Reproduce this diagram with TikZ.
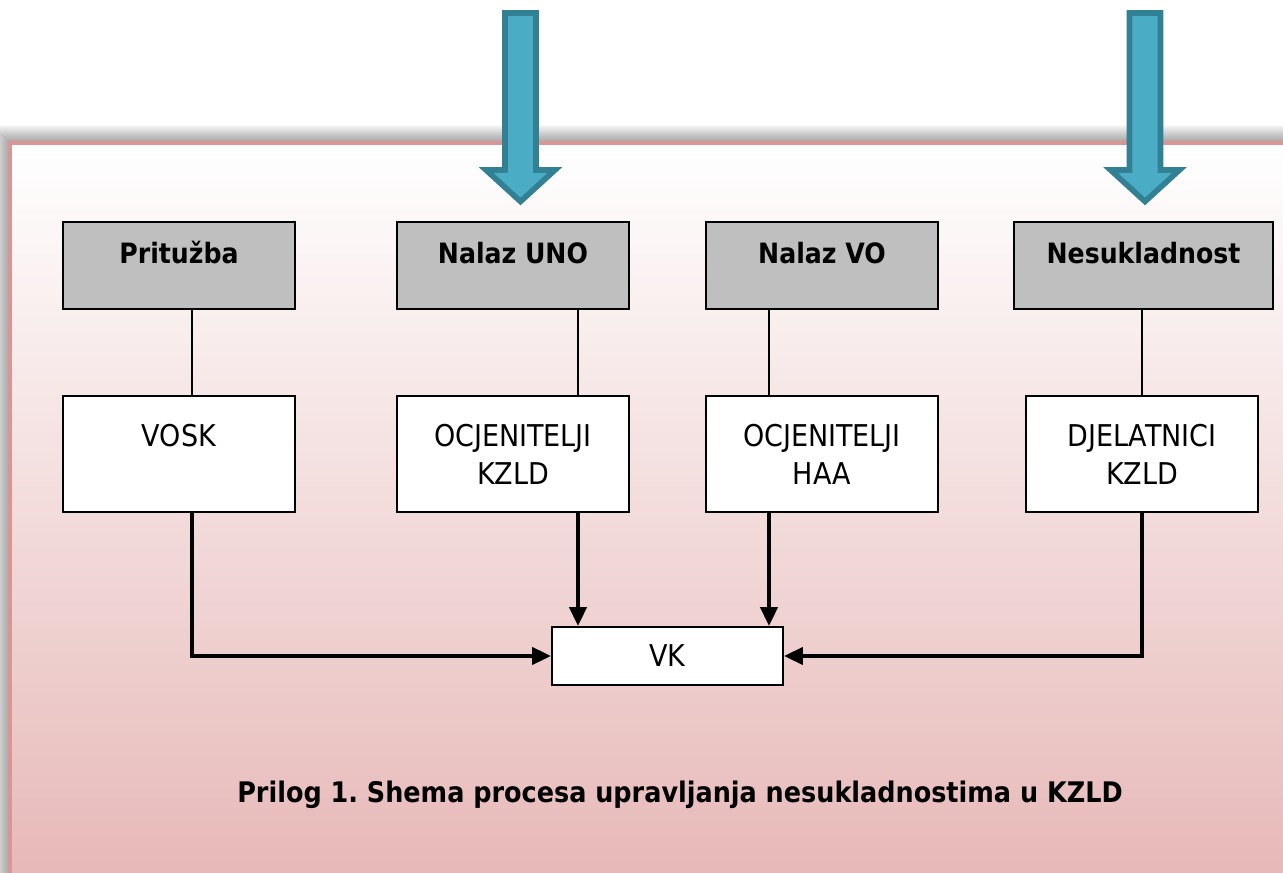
\documentclass[tikz,border=0pt]{standalone}
\usepackage{fontspec}
\setmainfont{DejaVu Sans Condensed}[BoldFont={DejaVu Sans Condensed Bold}]
\usetikzlibrary{arrows.meta,calc,positioning}
\definecolor{headgray}{RGB}{191,191,191}
\definecolor{pinkbot}{RGB}{230,184,183}
\definecolor{panelline}{RGB}{217,150,148}
\definecolor{arrowfill}{RGB}{75,172,198}
\definecolor{arrowline}{RGB}{49,128,148}
\frenchspacing

\begin{document}
\begin{tikzpicture}[x=0.75pt,y=-0.75pt]
  \tikzstyle{topbox}=[draw, line width=1.8pt, fill=headgray, minimum width=174pt, inner ysep=0pt, text height=31.5pt, text depth=33.75pt, font=\bfseries\fontsize{21}{25}\selectfont]
  \tikzstyle{whitebox}=[draw, line width=1.8pt, fill=white, minimum width=174pt, minimum height=87pt, align=center, font=\fontsize{22.5}{28.5}\selectfont]
  \tikzstyle{link}=[line width=1.8pt]
  \tikzstyle{flow}=[line width=2.5pt, -{Triangle[length=14pt,width=13pt]}]
  \tikzstyle{bigarrow}=[fill=arrowfill, draw=arrowline, line width=4.2pt]
  \useasboundingbox (0,0) rectangle (1283,873);
  \clip (0,0) rectangle (1283,873);

  % panel with its shadow
  \foreach \i in {1,...,18}
    \fill[black, opacity=0.022] (10-\i,143-\i) rectangle (1300,900);
  \shade[top color=white, bottom color=pinkbot] (10,143) rectangle (1295,885);
  \draw[panelline, line width=2.5pt] (10,143) rectangle (1295,885);

  % input arrows
  \foreach \cx in {520.5,1145}
    \draw[bigarrow] (\cx-15.5,13) -- (\cx+15.5,13) -- (\cx+15.5,170) -- (\cx+34.5,170)
      -- (\cx,201.5) -- (\cx-34.5,170) -- (\cx-15.5,170) -- cycle;

  \node[topbox] (pri) at (179,265.5) {Pritužba};
  \node[topbox] (uno) at (513,265.5) {Nalaz UNO};
  \node[topbox] (vo) at (822,265.5) {Nalaz VO};
  \node[topbox, minimum width=194.25pt] (nes) at (1143.5,265.5) {Nesukladnost};

  \node[whitebox] (vosk) at (179,454) {VOSK\\\phantom{K}};
  \node[whitebox] (okz) at (513,454) {OCJENITELJI\\KZLD};
  \node[whitebox] (oha) at (822,454) {OCJENITELJI\\HAA};
  \node[whitebox] (dje) at (1142,454) {DJELATNICI\\KZLD};

  \node[draw, line width=1.8pt, fill=white, minimum width=173.25pt, minimum height=43.5pt, font=\fontsize{22.5}{28.5}\selectfont] (vk) at (667.5,656) {VK};

  \node[anchor=base, font=\bfseries\fontsize{21.25}{26}\selectfont] (cap) at (680,802) {Prilog 1. Shema procesa upravljanja nesukladnostima u KZLD};

  \draw[link] ($(pri.south)+(13,0)$) -- ($(vosk.north)+(13,0)$);
  \draw[link] ($(uno.south)+(65,0)$) -- ($(okz.north)+(65,0)$);
  \draw[link] ($(vo.south)+(-53,0)$) -- ($(oha.north)+(-53,0)$);
  \draw[link] (dje.north) -- (dje.north |- nes.south);

  \coordinate (ua) at ($(okz.south)+(65,0)$);
  \coordinate (ha) at ($(oha.south)+(-53,0)$);
  \draw[flow] ($(vosk.south)+(13,0)$) |- (vk.west);
  \draw[flow] (ua) -- (ua |- vk.north);
  \draw[flow] (ha) -- (ha |- vk.north);
  \draw[flow] (dje.south) |- (vk.east);
\end{tikzpicture}
\end{document}
